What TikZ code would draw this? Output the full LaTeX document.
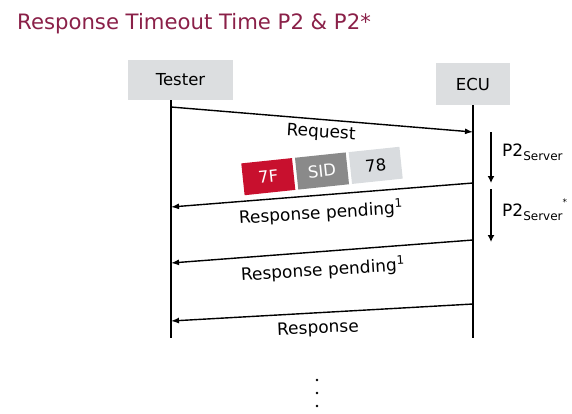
\documentclass[tikz,border=0pt]{standalone}
\usepackage{fontspec}
\setmainfont{DejaVu Sans}
\usetikzlibrary{arrows.meta}
\definecolor{titlered}{HTML}{8A2048}
\definecolor{boxgray}{HTML}{DCDEE0}
\definecolor{redbox}{HTML}{C8102E}
\definecolor{sidgray}{HTML}{8A8A8A}
\definecolor{lightbox}{HTML}{D9DCDF}
\begin{document}
\begin{tikzpicture}[x=1pt,y=-1pt,
  actor/.style={fill=boxgray, inner sep=0, font=\fontsize{16.5}{20}\selectfont},
  life/.style={line width=1.4pt},
  msg/.style={line width=1.4pt, -{Latex[length=8pt,width=6pt]}},
  lbl/.style={font=\fontsize{17}{20}\selectfont, inner sep=0},
  code/.style={inner sep=0, minimum width=51pt, minimum height=32pt, font=\fontsize{16.5}{19}\selectfont},
  timer/.style={line width=1.4pt, -{Latex[length=7pt,width=7pt]}},
  tlbl/.style={font=\fontsize{17}{20}\selectfont, inner sep=0, anchor=west}]
\useasboundingbox (0,0) rectangle (572,413);
\node[anchor=base west, font=\fontsize{21.2}{25}\selectfont, text=titlered, inner sep=0] (title) at (17,29) {Response Timeout Time P2 \& P2*};

\node[actor, minimum width=105pt, minimum height=40pt] (tester) at (180.5,80) {Tester};
\node[actor, minimum width=74pt, minimum height=42pt] (ecu) at (473,84) {ECU};

\coordinate (tTop) at (171,100);
\coordinate (tBot) at (171,338);
\coordinate (eTop) at (473,105);
\coordinate (eBot) at (473,338);
\draw[life] (tTop) -- (tBot);
\draw[life] (eTop) -- (eBot);

\coordinate (t1) at (171,107); \coordinate (e1) at (473,132);
\coordinate (e2) at (473,183); \coordinate (t2) at (171,207);
\coordinate (e3) at (473,240); \coordinate (t3) at (171,263);
\coordinate (e4) at (473,304); \coordinate (t4) at (171,321);
\draw[msg] (t1) -- (e1);
\draw[msg] (e2) -- (t2);
\draw[msg] (e3) -- (t3);
\draw[msg] (e4) -- (t4);

\node[lbl, rotate=-3.5] (req) at (321,133) {Request};
\node[lbl, rotate=3.5] (rp1) at (321,213) {Response pending\textsuperscript{1}};
\node[lbl, rotate=3.5] (rp2) at (323,270) {Response pending\textsuperscript{1}};
\node[lbl, rotate=2.5] (resp) at (318,329) {Response};

\begin{scope}[rotate around={6:(322,171)}, transform shape]
\node[code, fill=redbox, text=white] (f7) at (268,171) {7F};
\node[code, fill=sidgray, text=white] (sid) at (322,171) {SID};
\node[code, fill=lightbox] (n78) at (376,171) {78};
\end{scope}

\coordinate (a1s) at (491,132); \coordinate (a1e) at (491,183);
\coordinate (a2s) at (491,189); \coordinate (a2e) at (491,242);
\draw[timer] (a1s) -- (a1e);
\draw[timer] (a2s) -- (a2e);
\node[tlbl] (p2) at (502,152) {P2\raisebox{-0.45ex}{\fontsize{12}{14}\selectfont Server}};
\node[tlbl] (p2s) at (502,210) {P2\raisebox{-0.45ex}{\fontsize{12}{14}\selectfont Server}\raisebox{1.2ex}{\fontsize{9}{10}\selectfont *}};

\foreach \yy/\nm in {380/d1,393/d2,406/d3}
  \fill (317,\yy) circle (1.3pt) coordinate (\nm);
\end{tikzpicture}
\end{document}
